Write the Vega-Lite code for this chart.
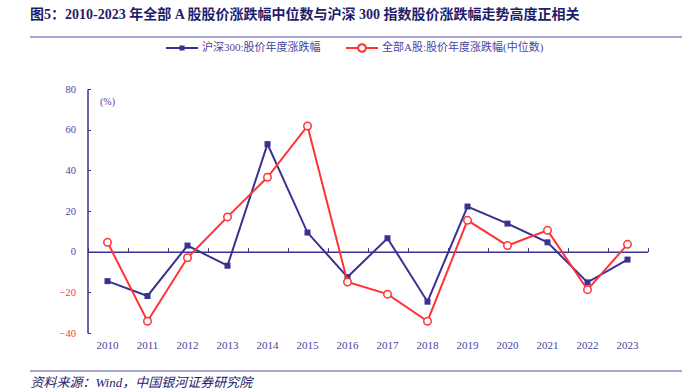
{
  "$schema": "https://vega.github.io/schema/vega-lite/v6.json",
  "width": 652,
  "height": 244,
  "autosize": {"type": "none"},
  "padding": {"left": 30, "top": 89, "right": 0, "bottom": 59},
  "background": "white",
  "config": {"view": {"stroke": null}, "font": "Liberation Serif, Noto Sans CJK SC"},
  "title": {
    "text": "图5：2010-2023 年全部 A 股股价涨跌幅中位数与沪深 300 指数股价涨跌幅走势高度正相关",
    "anchor": "start",
    "frame": "group",
    "font": "Liberation Serif, Noto Sans CJK SC",
    "fontSize": 14,
    "fontWeight": "bold",
    "color": "#1F1C6B",
    "offset": 9
  },
  "data": {
    "values": [
      {"year": "2010", "hs300": -14.5, "median": 4.6},
      {"year": "2011", "hs300": -21.8, "median": -34.2},
      {"year": "2012", "hs300": 3.0, "median": -3.0},
      {"year": "2013", "hs300": -6.9, "median": 17.1},
      {"year": "2014", "hs300": 52.9, "median": 36.6},
      {"year": "2015", "hs300": 9.4, "median": 61.8},
      {"year": "2016", "hs300": -12.5, "median": -14.9},
      {"year": "2017", "hs300": 6.6, "median": -20.9},
      {"year": "2018", "hs300": -24.6, "median": -34.2},
      {"year": "2019", "hs300": 22.2, "median": 15.4},
      {"year": "2020", "hs300": 13.8, "median": 3.0},
      {"year": "2021", "hs300": 4.6, "median": 10.5},
      {"year": "2022", "hs300": -15.1, "median": -18.7},
      {"year": "2023", "hs300": -3.9, "median": 3.6}
    ]
  },
  "layer": [
    {
      "mark": {"type": "rule", "color": "#A9A5D3", "strokeWidth": 1.5},
      "encoding": {
        "y": {"datum": 1, "type": "quantitative", "scale": {"domain": [0, 1], "range": [282, -52], "nice": false, "zero": false}, "axis": null}
      }
    },
    {
      "mark": {"type": "rule", "color": "#A9A5D3", "strokeWidth": 1.5},
      "encoding": {
        "y": {"datum": 0, "type": "quantitative", "scale": {"domain": [0, 1], "range": [282, -52], "nice": false, "zero": false}, "axis": null}
      }
    },
    {
      "mark": {"type": "point", "opacity": 0, "size": 1},
      "encoding": {
        "x": {
          "field": "year", "type": "ordinal", "scale": {"type": "band", "range": [0, 652], "paddingInner": 0, "paddingOuter": 0},
          "axis": {
            "orient": "bottom", "offset": 38, "domain": false,
            "ticks": false, "labels": false, "grid": false,
            "title": "资料来源：Wind，中国银河证券研究院",
            "titleAnchor": "start", "titleAlign": "left", "titleX": 0, "titleY": 15, "titleBaseline": "alphabetic",
            "titleFont": "Liberation Serif, Noto Sans CJK SC", "titleFontStyle": "italic", "titleFontWeight": "normal",
            "titleFontSize": 13, "titleColor": "#1F1C6B"
          }
        }
      }
    },
    {
      "mark": {"type": "line", "strokeWidth": 2},
      "encoding": {
        "x": {
          "field": "year", "type": "ordinal",
          "scale": {"type": "band", "range": [57.5, 617.5], "paddingInner": 0, "paddingOuter": 0},
          "axis": {"orient": "bottom", "offset": -81.33, "domain": true, "domainColor": "#3B3192", "domainWidth": 1.5, "ticks": true, "tickBand": "extent", "tickSize": -4, "tickColor": "#3B3192", "tickWidth": 1, "labels": false, "grid": false, "title": null}
        },
        "y": {
          "field": "hs300", "type": "quantitative",
          "scale": {"domain": [-40, 80], "nice": false, "zero": false},
          "axis": {
            "orient": "left", "offset": -57.5, "values": [-40, -20, 0, 20, 40, 60, 80],
            "domain": true, "domainColor": "#3B3192", "domainWidth": 1.5,
            "ticks": true, "tickSize": -3, "tickColor": "#3B3192", "tickWidth": 1,
            "labelPadding": 15, "labelFontSize": 10.5, "labelFont": "Liberation Serif",
            "labelColor": {"condition": {"test": "datum.value < 0", "value": "#FF3333"}, "value": "#4B43A0"},
            "labelFlush": false, "grid": false,
            "title": "(%)", "titleAngle": 0, "titleX": 12, "titleY": 12, "titleAlign": "left", "titleBaseline": "middle",
            "titleFontSize": 10, "titleFontWeight": "normal", "titleColor": "#4B43A0", "titleFont": "Liberation Serif"
          }
        },
        "stroke": {
          "datum": "沪深300:股价年度涨跌幅", "type": "nominal",
          "scale": {"domain": ["沪深300:股价年度涨跌幅"], "range": ["#3B3192"]},
          "legend": {
            "orient": "none", "legendX": 135, "legendY": -58, "title": null,
            "symbolType": "M-1,0H1M-0.16,-0.1H0.16M-0.16,0.1H0.16",
            "symbolSize": 1024, "symbolStrokeWidth": 2, "labelLimit": 400,
            "labelFontSize": 11, "labelColor": "#4B43A0", "labelFont": "Liberation Serif, Noto Sans CJK SC", "labelOffset": 3
          }
        }
      }
    },
    {
      "mark": {"type": "point", "shape": "square", "filled": true, "size": 36, "color": "#3B3192", "opacity": 1},
      "encoding": {
        "x": {"field": "year", "type": "ordinal", "scale": {"type": "band", "range": [57.5, 617.5], "paddingInner": 0, "paddingOuter": 0}, "axis": null},
        "y": {"field": "hs300", "type": "quantitative", "scale": {"domain": [-40, 80], "nice": false, "zero": false}, "axis": null}
      }
    },
    {
      "mark": {"type": "line", "strokeWidth": 2},
      "encoding": {
        "x": {
          "field": "year", "type": "ordinal",
          "scale": {"type": "band", "range": [57.5, 617.5], "paddingInner": 0, "paddingOuter": 0},
          "axis": {"orient": "bottom", "domain": false, "ticks": false, "labelAngle": 0, "labelPadding": 6, "labelFontSize": 11, "labelFont": "Liberation Serif", "labelColor": "#4B43A0", "grid": false, "title": null}
        },
        "y": {"field": "median", "type": "quantitative", "scale": {"domain": [-40, 80], "nice": false, "zero": false}, "axis": null},
        "stroke": {
          "datum": "全部A股:股价年度涨跌幅(中位数)", "type": "nominal",
          "scale": {"domain": ["全部A股:股价年度涨跌幅(中位数)"], "range": ["#FF3333"]},
          "legend": {
            "orient": "none", "legendX": 315, "legendY": -58, "title": null,
            "symbolType": "M-1,0H-0.24M0.24,0H1M0.24,0A0.24,0.24 0 1 1 -0.24,0A0.24,0.24 0 1 1 0.24,0",
            "symbolSize": 1024, "symbolStrokeWidth": 2, "labelLimit": 400,
            "labelFontSize": 11, "labelColor": "#4B43A0", "labelFont": "Liberation Serif, Noto Sans CJK SC", "labelOffset": 3
          }
        }
      }
    },
    {
      "mark": {"type": "point", "shape": "circle", "filled": false, "size": 56, "stroke": "#FF3333", "strokeWidth": 1.5, "fill": "white", "fillOpacity": 1, "opacity": 1},
      "encoding": {
        "x": {"field": "year", "type": "ordinal", "scale": {"type": "band", "range": [57.5, 617.5], "paddingInner": 0, "paddingOuter": 0}, "axis": null},
        "y": {"field": "median", "type": "quantitative", "scale": {"domain": [-40, 80], "nice": false, "zero": false}, "axis": null}
      }
    }
  ],
  "resolve": {
    "scale": {"x": "independent", "y": "independent", "stroke": "independent"},
    "axis": {"x": "independent", "y": "independent"},
    "legend": {"stroke": "independent"}
  }
}
